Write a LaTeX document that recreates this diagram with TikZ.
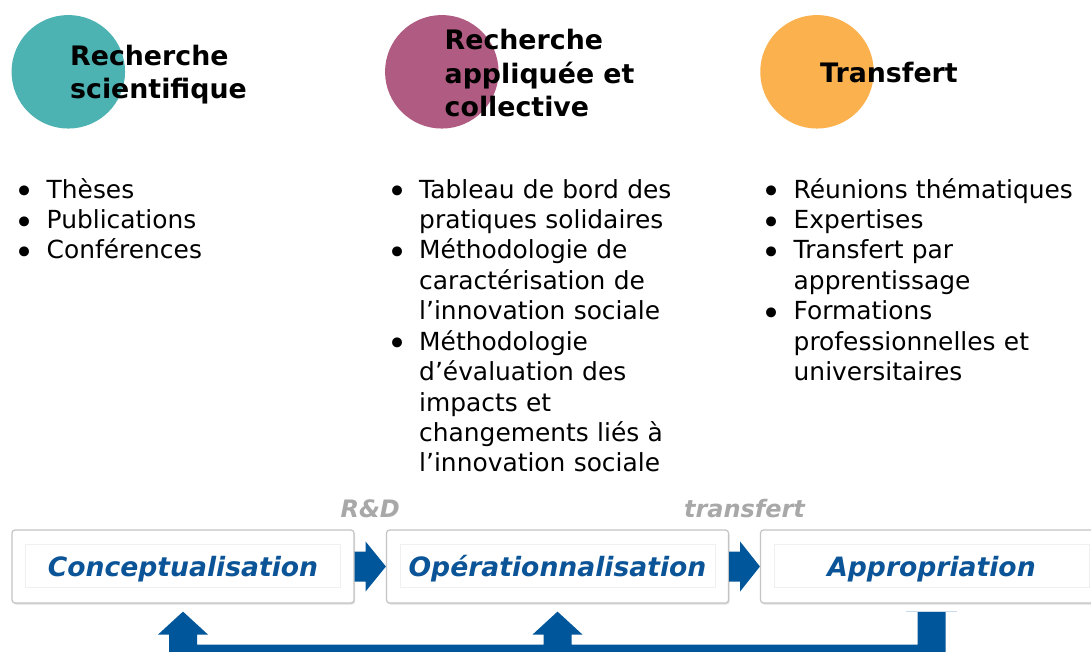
\documentclass[tikz,border=0pt]{standalone}
\usepackage{fontspec}
\setmainfont{DejaVu Sans}
\usetikzlibrary{calc,shadows}
\definecolor{tealc}{HTML}{4DB2B2}
\definecolor{mauvec}{HTML}{B05C82}
\definecolor{orangec}{HTML}{FBB24E}
\definecolor{flowblue}{HTML}{00569A}
\definecolor{stageblue}{HTML}{0A5497}
\definecolor{boxgray}{HTML}{C4C4C4}
\definecolor{innergray}{HTML}{F0F0F0}
\definecolor{lblgray}{HTML}{A8A8A8}
\definecolor{lightline}{HTML}{C9DCEF}
\newcommand\itm{\hangindent=31pt\hangafter=1\noindent\strut\makebox[31pt][l]{\hspace*{-1pt}\raisebox{-5.5pt}[0pt][0pt]{\fontsize{34}{34}\selectfont\textbullet}}}
\tikzset{
  circ/.style={circle, inner sep=0pt, minimum size=113.5pt},
  title/.style={anchor=north west, inner sep=0pt, align=left,
    font=\fontsize{26.8}{33.5}\selectfont\bfseries},
  items/.style={anchor=north west, inner sep=0pt, text width=340pt, align=left,
    font=\fontsize{24.9}{30.4}\selectfont},
  stage/.style={draw=boxgray, line width=1.2pt, rounded corners=3pt, fill=white,
    minimum width=342pt, minimum height=73pt, text=stageblue,
    font=\fontsize{26.6}{30}\selectfont\bfseries\itshape,
    text height=22pt, text depth=3pt,
    drop shadow={opacity=0.25, shadow xshift=1pt, shadow yshift=-1.5pt}},
  innerframe/.style={draw=innergray, line width=0.7pt},
  flow/.style={fill=flowblue},
  lbl/.style={text=lblgray, font=\fontsize{24}{28}\selectfont\bfseries\itshape, anchor=base, inner sep=0pt},
}
\begin{document}
\begin{tikzpicture}[x=1pt,y=-1pt]
\useasboundingbox (0,0) rectangle (1091,652);
\clip (0,0) rectangle (1091,652);
\fill[white] (0,0) rectangle (1091,652);

% circles
\node[circ, fill=tealc] (c1) at (68.3,71.8) {};
\node[circ, fill=mauvec] (c2) at (441.8,71.8) {};
\node[circ, fill=orangec] (c3) at (817,71.8) {};

% titles
\node[title] (t1) at (70,{65-0.7*33.5}) {\strut Recherche\\scientifique\strut};
\node[title] (t2) at (444.5,{49.5-0.7*33.5}) {\strut Recherche\\appliquée et\\collective\strut};
\node[title, anchor=base west] (t3) at (820,82.5) {Transfert};

% bullet lists
\node[items] (l1) at (15.5,{198-0.7*30.4}) {%
\itm Thèses
\par\itm Publications
\par\itm Conférences\strut\par};
\node[items] (l2) at (388,{198-0.7*30.4}) {%
\itm Tableau de bord des\newline pratiques solidaires
\par\itm Méthodologie de\newline caractérisation de\newline l’innovation sociale
\par\itm Méthodologie\newline d’évaluation des\newline impacts et\newline changements liés à\newline l’innovation sociale\strut\par};
\node[items] (l3) at (762.5,{198-0.7*30.4}) {%
\itm Réunions thématiques
\par\itm Expertises
\par\itm Transfert par\newline apprentissage
\par\itm Formations\newline professionnelles et\newline universitaires\strut\par};

% stage boxes
\node[stage] (b1) at (183,566.5) {Conceptualisation};
\node[stage] (b2) at (557.5,566.5) {Opérationnalisation};
\node[stage] (b3) at (931.5,566.5) {Appropriation};
\foreach \b in {b1,b2,b3}{
  \draw[innerframe] ($(\b.north west)+(14,15)$) rectangle ($(\b.south east)+(-14,-16)$);
}

% forward arrows
\fill[flow] ($(b1.east)+(0,-15)$) -- ($(b1.east)+(11,-15)$) -- ($(b1.east)+(11,-25)$)
  -- (b2.west) -- ($(b1.east)+(11,25)$) -- ($(b1.east)+(11,15)$) -- ($(b1.east)+(0,15)$) -- cycle;
\fill[flow] ($(b2.east)+(0,-15)$) -- ($(b2.east)+(11,-15)$) -- ($(b2.east)+(11,-25)$)
  -- (b3.west) -- ($(b2.east)+(11,25)$) -- ($(b2.east)+(11,15)$) -- ($(b2.east)+(0,15)$) -- cycle;

% arrow labels
\node[lbl] (rd) at ($(b1.east)!0.5!(b2.west)+(0,-49.5)$) {R\&D};
\node[lbl] (tr) at ($(b2.east)!0.5!(b3.west)+(0,-49.5)$) {transfert};

% feedback arrow
\coordinate (p1) at ($(b1.south)+(0,8)$);
\coordinate (p2) at ($(b2.south)+(0,8)$);
\coordinate (s3) at ($(b3.south)+(0,8)$);
\fill[flow] ($(s3)+(14,0)$) -- ($(s3)+(14,61)$) -- ($(p1)+(-14,61)$) -- ($(p1)+(-14,23)$)
  -- ($(p1)+(-25,23)$) -- (p1) -- ($(p1)+(25,23)$) -- ($(p1)+(14,23)$) -- ($(p1)+(14,33)$)
  -- ($(p2)+(-14,33)$) -- ($(p2)+(-14,23)$) -- ($(p2)+(-25,23)$) -- (p2) -- ($(p2)+(25,23)$)
  -- ($(p2)+(14,23)$) -- ($(p2)+(14,33)$) -- ($(s3)+(-14,33)$) -- ($(s3)+(-14,0)$) -- cycle;
\draw[lightline, line width=1.2pt] ($(s3)+(-26,0)$) -- ($(s3)+(25,0)$);
\end{tikzpicture}
\end{document}
